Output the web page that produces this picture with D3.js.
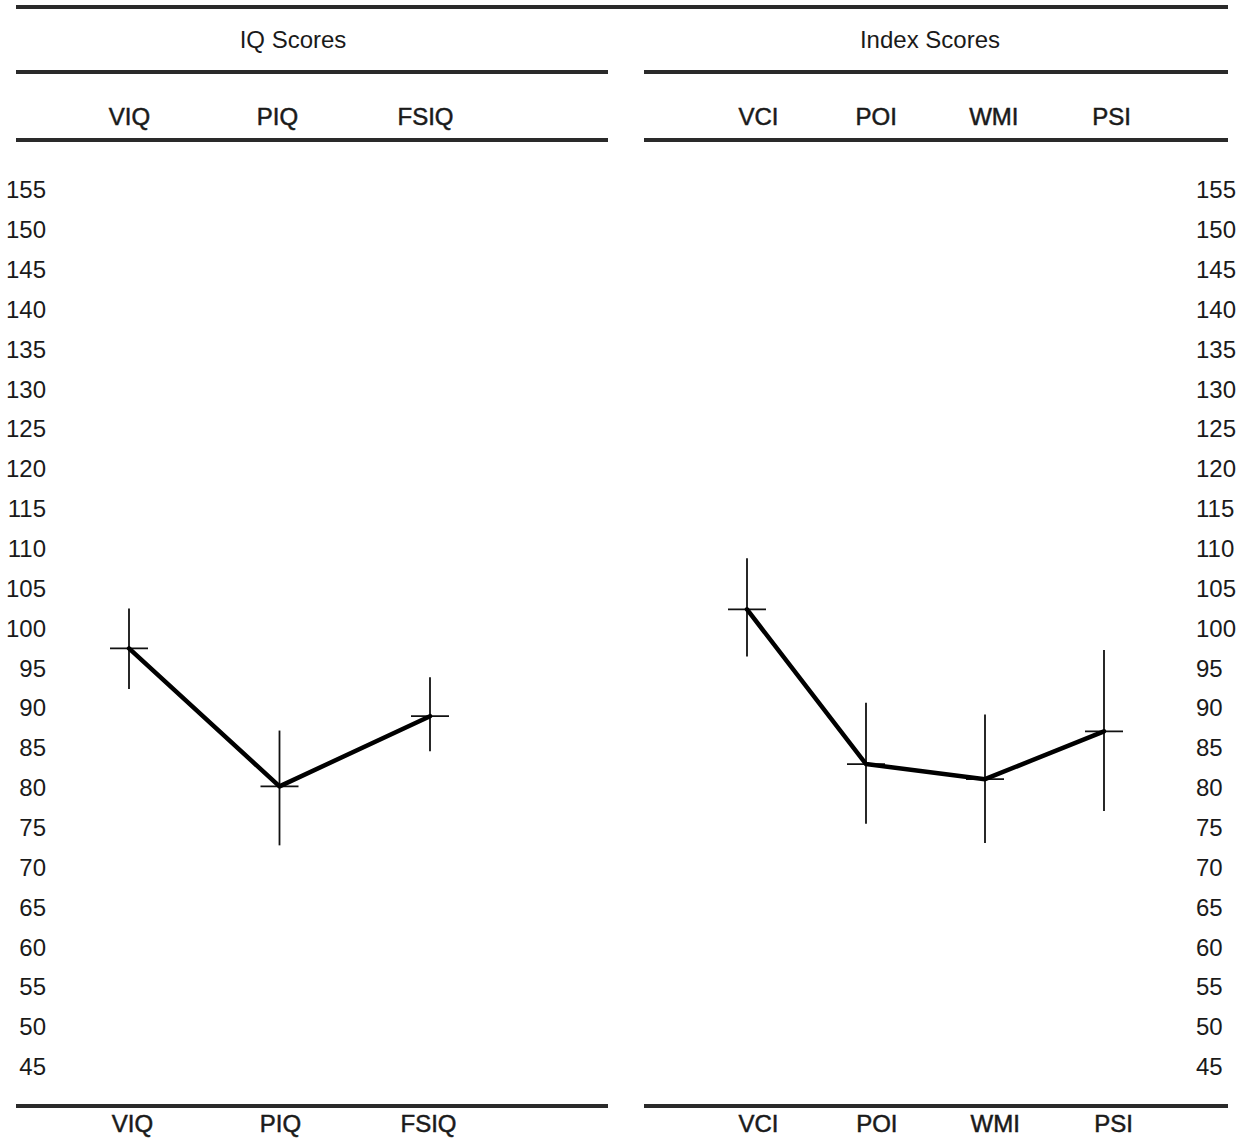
<!DOCTYPE html>
<html>
<head>
<meta charset="utf-8">
<script src="https://cdn.jsdelivr.net/npm/d3@7"></script>
<style>
  html, body { margin: 0; padding: 0; background: #fff; }
  svg { display: block; }
  text { font-family: "Liberation Sans", Arial, Helvetica, sans-serif; fill: #1a1a1a; }
</style>
</head>
<body>
<svg id="chart" width="1249" height="1141"></svg>
<script>
// ---- data ----
const panelTitles = ["IQ Scores", "Index Scores"];
const leftCats = ["VIQ", "PIQ", "FSIQ"];
const leftScores = [97.5, 80.2, 89.0];
const leftLow = [92.4, 72.8, 84.6];
const leftHigh = [102.5, 87.2, 93.9];
const rightCats = ["VCI", "POI", "WMI", "PSI"];
const rightScores = [102.4, 83.0, 81.1, 87.1];
const rightLow = [96.5, 75.5, 73.1, 77.1];
const rightHigh = [108.8, 90.7, 89.2, 97.3];
const yTicks = [155, 150, 145, 140, 135, 130, 125, 120, 115, 110, 105, 100, 95, 90, 85, 80, 75, 70, 65, 60, 55, 50, 45];

// ---- layout ----
const svg = d3.select("#chart");
svg.append("rect").attr("width", 1249).attr("height", 1141).attr("fill", "#fff");

const y = d3.scaleLinear().domain([45, 155]).range([1067, 190]);

const panels = [
  { title: panelTitles[0], cats: leftCats, scores: leftScores, low: leftLow, high: leftHigh,
    dataRange: [129, 430], headRange: [129, 425], footRange: [132, 428],
    titleX: 293, lineX: [16, 608] },
  { title: panelTitles[1], cats: rightCats, scores: rightScores, low: rightLow, high: rightHigh,
    dataRange: [747, 1104], headRange: [758, 1111], footRange: [758, 1113],
    titleX: 930, lineX: [644, 1228] }
];

const ruleColor = "#2a2a2a";
function rule(x1, x2, yy) {
  svg.append("line").attr("x1", x1).attr("x2", x2).attr("y1", yy).attr("y2", yy)
    .attr("stroke", ruleColor).attr("stroke-width", 4);
}

// full-width top rule
rule(16, 1228, 7);

panels.forEach(p => {
  // rules
  rule(p.lineX[0], p.lineX[1], 72);
  rule(p.lineX[0], p.lineX[1], 140);
  rule(p.lineX[0], p.lineX[1], 1106);

  // title
  svg.append("text").attr("x", p.titleX).attr("y", 40).attr("dy", "0.35em")
    .attr("text-anchor", "middle").style("font-size", "24px").text(p.title);

  // header & footer category labels via axes
  const head = d3.scalePoint().domain(p.cats).range(p.headRange);
  const foot = d3.scalePoint().domain(p.cats).range(p.footRange);
  const gh = svg.append("g").attr("transform", "translate(0,117)")
    .call(d3.axisBottom(head).tickSize(0).tickPadding(0));
  const gf = svg.append("g").attr("transform", "translate(0,1124)")
    .call(d3.axisBottom(foot).tickSize(0).tickPadding(0));
  [gh, gf].forEach(g => {
    g.select(".domain").remove();
    g.selectAll("text").attr("y", 0).attr("dy", "0.35em")
      .style("font-size", "24px").style("font-family", '"Liberation Sans", Arial, sans-serif')
      .attr("fill", "#1a1a1a").attr("stroke", "#1a1a1a").attr("stroke-width", 0.5);
  });

  // data
  const x = d3.scalePoint().domain(p.cats).range(p.dataRange);
  const pts = p.cats.map((c, i) => ({ c, v: p.scores[i], lo: p.low[i], hi: p.high[i] }));

  const g = svg.append("g");
  g.selectAll("line.ci").data(pts).join("line").attr("class", "ci")
    .attr("x1", d => x(d.c)).attr("x2", d => x(d.c))
    .attr("y1", d => y(d.hi)).attr("y2", d => y(d.lo))
    .attr("stroke", "#111").attr("stroke-width", 1.8);
  g.selectAll("line.cap").data(pts).join("line").attr("class", "cap")
    .attr("x1", d => x(d.c) - 19).attr("x2", d => x(d.c) + 19)
    .attr("y1", d => y(d.v)).attr("y2", d => y(d.v))
    .attr("stroke", "#111").attr("stroke-width", 1.8);
  g.append("path").datum(pts)
    .attr("d", d3.line().x(d => x(d.c)).y(d => y(d.v)))
    .attr("fill", "none").attr("stroke", "#000").attr("stroke-width", 4.5)
    .attr("stroke-linejoin", "round").attr("stroke-linecap", "round");
});

// y tick labels on both sides
const gl = svg.append("g").attr("transform", "translate(46,0)")
  .call(d3.axisLeft(y).tickValues(yTicks).tickSize(0).tickPadding(0));
const gr = svg.append("g").attr("transform", "translate(1196,0)")
  .call(d3.axisRight(y).tickValues(yTicks).tickSize(0).tickPadding(0));
[gl, gr].forEach(g => {
  g.select(".domain").remove();
  g.selectAll("text").style("font-size", "24px")
    .style("font-family", '"Liberation Sans", Arial, sans-serif').attr("fill", "#1a1a1a");
});
gl.selectAll("text").attr("x", 0);
gr.selectAll("text").attr("x", 0);
</script>
</body>
</html>
